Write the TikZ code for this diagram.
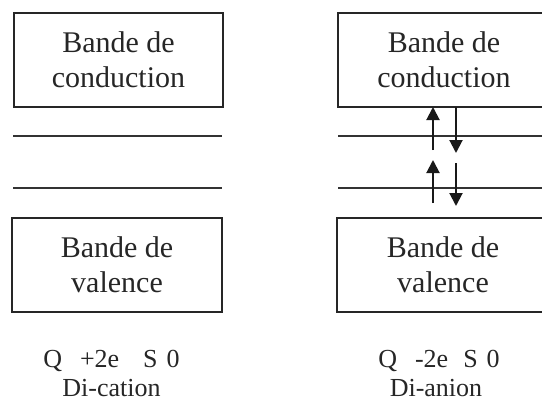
\documentclass[tikz,border=0pt]{standalone}
\usepackage{fontspec}
\setmainfont{Liberation Serif}
\usetikzlibrary{arrows.meta}
\begin{document}
\begin{tikzpicture}[x=1pt,y=-1pt,
  band/.style={draw=black!85,line width=2.2pt,align=center,inner sep=0pt,
    font=\fontsize{30}{35}\selectfont,text=black!85},
  lvl/.style={draw=black!80,line width=1.8pt},
  lab/.style={anchor=base,inner sep=0pt,font=\fontsize{26}{30}\selectfont,text=black!85},
  arr/.style={draw=black!90,line width=2pt,-{Triangle[width=13pt,length=13pt]}}]
\useasboundingbox (0,0) rectangle (542,402);
\clip (0,0) rectangle (542,402);
% left
\node[band,minimum width=209pt,minimum height=94pt] (lc) at (118.5,60) {Bande de\\conduction};
\node[band,minimum width=210pt,minimum height=94pt] (lv) at (117,265) {Bande de\\valence};
\coordinate (l1a) at (13,136); \coordinate (l1b) at (222,136);
\coordinate (l2a) at (13,188); \coordinate (l2b) at (222,188);
\draw[lvl] (l1a) -- (l1b);
\draw[lvl] (l2a) -- (l2b);
\node[lab] (lq) at (111.5,367) {Q\hspace{18pt}+2e\hspace{24pt}S\hspace{9pt}0};
\node[lab] (ln) at (111.5,396) {Di-cation};
% right
\node[band,minimum width=212pt,minimum height=94pt] (rc) at (444,60) {Bande de\\conduction};
\node[band,minimum width=212pt,minimum height=94pt] (rv) at (443,265) {Bande de\\valence};
\coordinate (r1a) at (338,136); \coordinate (r1b) at (560,136);
\coordinate (r2a) at (338,188); \coordinate (r2b) at (560,188);
\draw[lvl] (r1a) -- (r1b);
\draw[lvl] (r2a) -- (r2b);
\node[lab] (rq) at (439,367) {Q\hspace{18pt}-2e\hspace{15pt}S\hspace{9pt}0};
\node[lab] (rn) at (436,396) {Di-anion};
% arrows
\coordinate (u1s) at (433,150); \coordinate (u1e) at (433,107);
\coordinate (u2s) at (433,203); \coordinate (u2e) at (433,160);
\coordinate (d1s) at (456,107); \coordinate (d1e) at (456,153);
\coordinate (d2s) at (456,163); \coordinate (d2e) at (456,206);
\draw[arr] (u1s) -- (u1e);
\draw[arr] (u2s) -- (u2e);
\draw[arr] (d1s) -- (d1e);
\draw[arr] (d2s) -- (d2e);
\end{tikzpicture}
\end{document}
